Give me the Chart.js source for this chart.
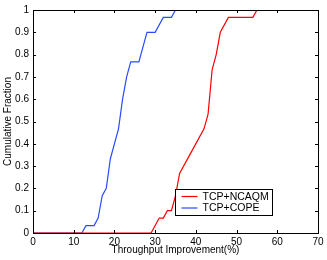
<!DOCTYPE html>
<html>
<head>
<meta charset="utf-8">
<script src="https://cdn.jsdelivr.net/npm/chart.js@4"></script>
<style>
  html, body { margin: 0; padding: 0; background: #fff; }
  #wrap { width: 327px; height: 260px; position: relative; }
</style>
</head>
<body>
<div id="wrap"><canvas id="myChart"></canvas></div>
<script>
// CDF points
const ncaqmX = [0, 29, 31, 32, 33, 34, 35, 36, 39, 42, 43, 44, 45, 46, 48, 54, 55, 70];
const ncaqmY = [0, 0, 0.067, 0.067, 0.1, 0.1, 0.167, 0.267, 0.367, 0.467, 0.533, 0.733, 0.8, 0.9, 0.967, 0.967, 1, 1];

const copeX = [0, 12, 13, 15, 16, 17, 18, 19, 21, 22, 23, 24, 26, 28, 30, 32, 34, 35, 70];
const copeY = [0, 0, 0.033, 0.033, 0.067, 0.167, 0.2, 0.333, 0.467, 0.6, 0.7, 0.767, 0.767, 0.9, 0.9, 0.967, 0.967, 1, 1];

const seriesLabels = ['TCP+NCAQM', 'TCP+COPE'];
const seriesColors = ['#ff0000', '#2a4bff'];

const xTicks = [0, 10, 20, 30, 40, 50, 60, 70];
const yTicks = [0, 0.1, 0.2, 0.3, 0.4, 0.5, 0.6, 0.7, 0.8, 0.9, 1];

const FONT = 'Liberation Sans, Arial, Helvetica, sans-serif';

function toPoints(xs, ys) {
    return xs.map((x, i) => ({ x: x, y: ys[i] }));
}

// box around plot + inward ticks on every side (matlab style)
const boxPlugin = {
    id: 'box',
    afterDatasetsDraw(chart) {
        const { ctx, chartArea: a, scales } = chart;
        ctx.save();
        ctx.strokeStyle = '#000';
        ctx.lineWidth = 1;
        ctx.beginPath();
        xTicks.forEach(v => {
            const px = Math.round(scales.x.getPixelForValue(v)) + 0.5;
            ctx.moveTo(px, a.bottom); ctx.lineTo(px, a.bottom - 3);
            ctx.moveTo(px, a.top); ctx.lineTo(px, a.top + 3);
        });
        yTicks.forEach(v => {
            const py = Math.round(scales.y.getPixelForValue(v)) + 0.5;
            ctx.moveTo(a.left, py); ctx.lineTo(a.left + 3, py);
            ctx.moveTo(a.right, py); ctx.lineTo(a.right - 3, py);
        });
        ctx.stroke();
        ctx.strokeRect(Math.round(a.left) + 0.5, Math.round(a.top) + 0.5,
            Math.round(a.right - a.left), Math.round(a.bottom - a.top));
        ctx.restore();
    }
};

// legend box inside the plot, lower right
const legendPlugin = {
    id: 'boxLegend',
    afterDraw(chart) {
        const ctx = chart.ctx;
        const x0 = 175.5, y0 = 189.5, w = 97, h = 26;
        ctx.save();
        ctx.fillStyle = '#fff';
        ctx.fillRect(x0, y0, w, h);
        ctx.strokeStyle = '#000';
        ctx.lineWidth = 1;
        ctx.strokeRect(x0, y0, w, h);
        ctx.font = '10.5px ' + FONT;
        ctx.textBaseline = 'middle';
        chart.data.datasets.forEach((ds, i) => {
            const cy = y0 + 7 + i * 11.5;
            ctx.strokeStyle = ds.borderColor;
            ctx.lineWidth = 1.2;
            ctx.beginPath();
            ctx.moveTo(x0 + 6, cy);
            ctx.lineTo(x0 + 22, cy);
            ctx.stroke();
            ctx.fillStyle = '#000';
            ctx.fillText(ds.label, x0 + 27, cy + 0.5);
        });
        ctx.restore();
    }
};

function init() {
    Chart.defaults.color = '#000';
    Chart.defaults.font.family = FONT;
    Chart.defaults.font.size = 10;

    const ctx = document.getElementById('myChart').getContext('2d');
    new Chart(ctx, {
        type: 'line',
        data: {
            datasets: [
                {
                    label: seriesLabels[0],
                    data: toPoints(ncaqmX, ncaqmY),
                    borderColor: seriesColors[0],
                    borderWidth: 1.2,
                    pointRadius: 0,
                    tension: 0
                },
                {
                    label: seriesLabels[1],
                    data: toPoints(copeX, copeY),
                    borderColor: seriesColors[1],
                    borderWidth: 1.2,
                    pointRadius: 0,
                    tension: 0
                }
            ]
        },
        options: {
            responsive: true,
            maintainAspectRatio: false,
            animation: false,
            layout: { padding: { top: 7, right: 9, left: 0, bottom: 0 } },
            plugins: {
                legend: { display: false },
                tooltip: { enabled: false }
            },
            scales: {
                x: {
                    type: 'linear',
                    min: 0, max: 70,
                    afterFit: s => { s.height = 27; },
                    afterBuildTicks: s => { s.ticks = xTicks.map(v => ({ value: v })); },
                    grid: { display: false, drawTicks: false },
                    border: { display: false },
                    ticks: { padding: 3, maxRotation: 0, font: { size: 10 } },
                    title: { display: true, text: 'Throughput Improvement(%)', font: { size: 10 }, padding: { top: 0, bottom: 4 } }
                },
                y: {
                    min: 0, max: 1,
                    afterFit: s => { s.width = 33; },
                    afterBuildTicks: s => { s.ticks = yTicks.map(v => ({ value: v })); },
                    grid: { display: false, drawTicks: false },
                    border: { display: false },
                    ticks: { padding: 4, font: { size: 10 }, callback: v => String(+v.toFixed(1)) },
                    title: { display: true, text: 'Cumulative Fraction', font: { size: 10 }, padding: { top: 2, bottom: 0 } }
                }
            }
        },
        plugins: [boxPlugin, legendPlugin]
    });
}

window.addEventListener('DOMContentLoaded', init);
</script>
</body>
</html>
